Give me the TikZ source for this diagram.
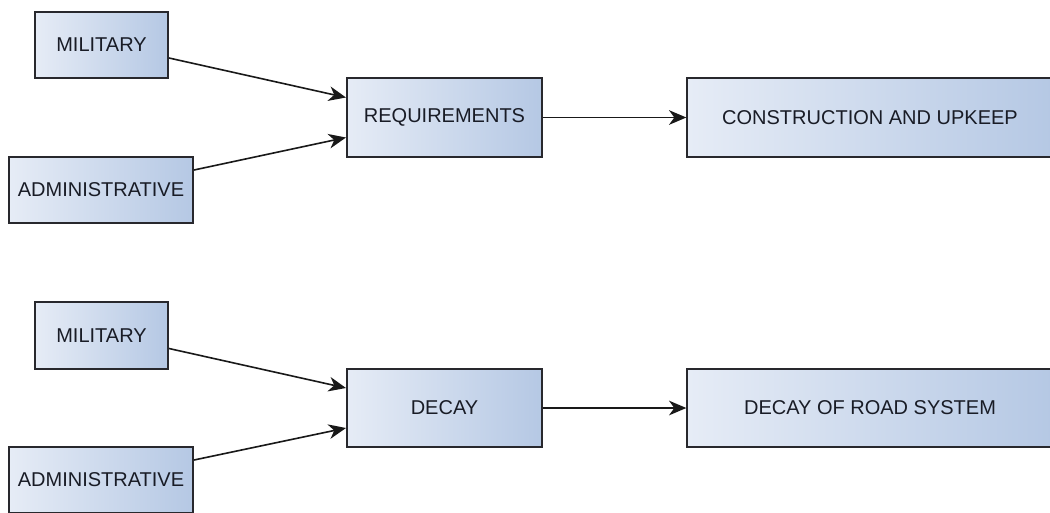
\documentclass[tikz,border=0pt]{standalone}
\usepackage{fontspec}
\setmainfont{Liberation Sans}
\usetikzlibrary{arrows.meta,calc}
\definecolor{boxL}{RGB}{230,236,246}
\definecolor{boxR}{RGB}{181,200,228}
\definecolor{boxBorder}{RGB}{40,40,45}
\definecolor{txt}{RGB}{25,28,38}
\tikzset{
  blk/.style={draw=boxBorder, line width=1.5pt, left color=boxL, right color=boxR,
    inner sep=0pt, text=txt, font=\fontsize{15}{18}\selectfont},
  conn/.style={draw=black!90, line width=1.2pt, -{Stealth[length=13pt,width=11pt,inset=4pt]}}
}
\begin{document}
\begin{tikzpicture}[x=0.75pt,y=-0.75pt]
\useasboundingbox (0,0) rectangle (1050,512);
% top row
\node[blk, minimum width=99.75pt, minimum height=49.5pt] (mil1) at (101.5,45) {MILITARY};
\node[blk, minimum width=138pt, minimum height=49.5pt] (adm1) at (101,190) {ADMINISTRATIVE};
\node[blk, minimum width=146.25pt, minimum height=59.25pt] (req) at (444.5,117.5) {REQUIREMENTS};
\node[blk, minimum width=274pt, minimum height=59.25pt] (cons) at (870,117.5) {CONSTRUCTION AND UPKEEP};
% bottom row
\node[blk, minimum width=99.75pt, minimum height=50.25pt] (mil2) at (101.5,335.5) {MILITARY};
\node[blk, minimum width=138pt, minimum height=49.5pt] (adm2) at (101,480) {ADMINISTRATIVE};
\node[blk, minimum width=146.25pt, minimum height=58.5pt] (dec) at (444.5,408) {DECAY};
\node[blk, minimum width=274pt, minimum height=58.5pt] (road) at (870,408) {DECAY OF ROAD SYSTEM};
% connectors
\draw[conn] ($(mil1.east)+(0,13)$) -- ($(req.west)+(0,-20)$);
\draw[conn] ($(adm1.east)+(0,-20)$) -- ($(req.west)+(0,20)$);
\draw[conn] (req.east) -- (cons.west);
\draw[conn] ($(mil2.east)+(0,13)$) -- ($(dec.west)+(0,-20)$);
\draw[conn] ($(adm2.east)+(0,-20)$) -- ($(dec.west)+(0,20)$);
\draw[conn] (dec.east) -- (road.west);
\end{tikzpicture}
\end{document}
